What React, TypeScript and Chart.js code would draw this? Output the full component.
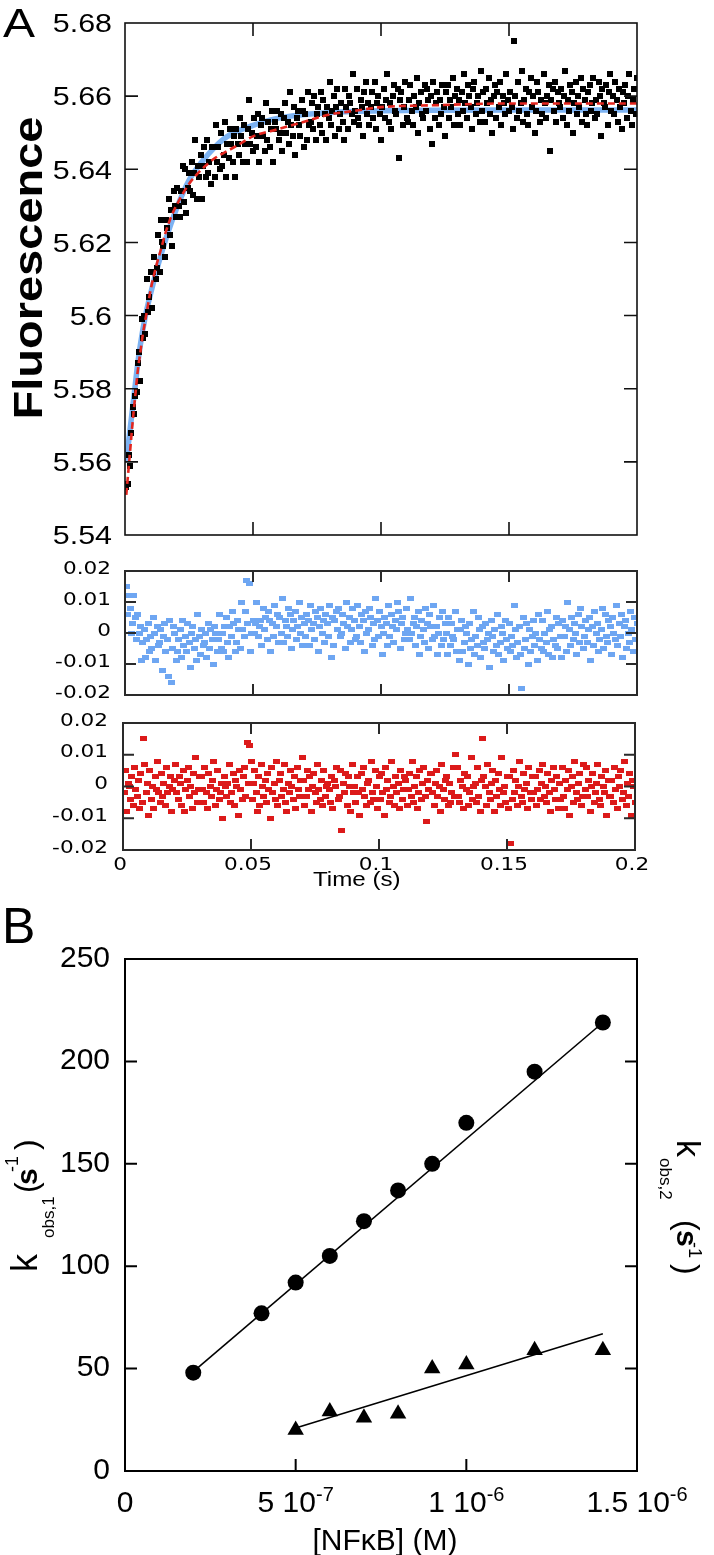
import React, { useEffect, useRef } from 'react';
import { Chart, registerables } from 'chart.js';
Chart.register(...registerables);

// ---------- Panel A data ----------
const timeS = [
  0.0005,0.001,0.0015,0.002,0.0025,0.003,0.0035,0.004,0.0045,0.005,0.0055,0.006,0.0065,0.007,0.0075,0.008,0.0085,0.009,0.0095,0.01,
  0.0105,0.011,0.0115,0.012,0.0125,0.013,0.0135,0.014,0.0145,0.015,0.0155,0.016,0.0165,0.017,0.0175,0.018,0.0185,0.019,0.0195,0.02,
  0.0205,0.021,0.0215,0.022,0.0225,0.023,0.0235,0.024,0.0245,0.025,0.0255,0.026,0.0265,0.027,0.0275,0.028,0.0285,0.029,0.0295,0.03,
  0.0305,0.031,0.0315,0.032,0.0325,0.033,0.0335,0.034,0.0345,0.035,0.0355,0.036,0.0365,0.037,0.0375,0.038,0.0385,0.039,0.0395,0.04,
  0.0405,0.041,0.0415,0.042,0.0425,0.043,0.0435,0.044,0.0445,0.045,0.0455,0.046,0.0465,0.047,0.0475,0.048,0.0485,0.049,0.0495,0.05,
  0.0505,0.051,0.0515,0.052,0.0525,0.053,0.0535,0.054,0.0545,0.055,0.0555,0.056,0.0565,0.057,0.0575,0.058,0.0585,0.059,0.0595,0.06,
  0.0605,0.061,0.0615,0.062,0.0625,0.063,0.0635,0.064,0.0645,0.065,0.0655,0.066,0.0665,0.067,0.0675,0.068,0.0685,0.069,0.0695,0.07,
  0.0705,0.071,0.0715,0.072,0.0725,0.073,0.0735,0.074,0.0745,0.075,0.0755,0.076,0.0765,0.077,0.0775,0.078,0.0785,0.079,0.0795,0.08,
  0.0805,0.081,0.0815,0.082,0.0825,0.083,0.0835,0.084,0.0845,0.085,0.0855,0.086,0.0865,0.087,0.0875,0.088,0.0885,0.089,0.0895,0.09,
  0.0905,0.091,0.0915,0.092,0.0925,0.093,0.0935,0.094,0.0945,0.095,0.0955,0.096,0.0965,0.097,0.0975,0.098,0.0985,0.099,0.0995,0.1,
  0.1005,0.101,0.1015,0.102,0.1025,0.103,0.1035,0.104,0.1045,0.105,0.1055,0.106,0.1065,0.107,0.1075,0.108,0.1085,0.109,0.1095,0.11,
  0.1105,0.111,0.1115,0.112,0.1125,0.113,0.1135,0.114,0.1145,0.115,0.1155,0.116,0.1165,0.117,0.1175,0.118,0.1185,0.119,0.1195,0.12,
  0.1205,0.121,0.1215,0.122,0.1225,0.123,0.1235,0.124,0.1245,0.125,0.1255,0.126,0.1265,0.127,0.1275,0.128,0.1285,0.129,0.1295,0.13,
  0.1305,0.131,0.1315,0.132,0.1325,0.133,0.1335,0.134,0.1345,0.135,0.1355,0.136,0.1365,0.137,0.1375,0.138,0.1385,0.139,0.1395,0.14,
  0.1405,0.141,0.1415,0.142,0.1425,0.143,0.1435,0.144,0.1445,0.145,0.1455,0.146,0.1465,0.147,0.1475,0.148,0.1485,0.149,0.1495,0.15,
  0.1505,0.151,0.1515,0.152,0.1525,0.153,0.1535,0.154,0.1545,0.155,0.1555,0.156,0.1565,0.157,0.1575,0.158,0.1585,0.159,0.1595,0.16,
  0.1605,0.161,0.1615,0.162,0.1625,0.163,0.1635,0.164,0.1645,0.165,0.1655,0.166,0.1665,0.167,0.1675,0.168,0.1685,0.169,0.1695,0.17,
  0.1705,0.171,0.1715,0.172,0.1725,0.173,0.1735,0.174,0.1745,0.175,0.1755,0.176,0.1765,0.177,0.1775,0.178,0.1785,0.179,0.1795,0.18,
  0.1805,0.181,0.1815,0.182,0.1825,0.183,0.1835,0.184,0.1845,0.185,0.1855,0.186,0.1865,0.187,0.1875,0.188,0.1885,0.189,0.1895,0.19,
  0.1905,0.191,0.1915,0.192,0.1925,0.193,0.1935,0.194,0.1945,0.195,0.1955,0.196,0.1965,0.197,0.1975,0.198,0.1985,0.199,0.1995,0.2,
];

const fluorescence = [
  5.553,5.554,5.562,5.559,5.568,5.575,5.573,5.578,5.579,5.587,5.590,5.582,5.599,5.594,5.600,5.595,5.610,5.601,5.605,5.612,
  5.602,5.612,5.616,5.610,5.613,5.622,5.612,5.626,5.620,5.619,5.616,5.626,5.624,5.632,5.622,5.629,5.619,5.634,5.630,5.627,
  5.635,5.630,5.627,5.634,5.641,5.631,5.640,5.628,5.635,5.639,5.634,5.642,5.633,5.639,5.648,5.632,5.641,5.638,5.644,5.632,
  5.641,5.646,5.638,5.648,5.639,5.642,5.636,5.646,5.646,5.638,5.652,5.642,5.646,5.640,5.650,5.641,5.644,5.653,5.638,5.647,
  5.643,5.651,5.647,5.642,5.649,5.638,5.651,5.647,5.644,5.654,5.649,5.642,5.652,5.647,5.642,5.651,5.659,5.647,5.650,5.645,
  5.654,5.646,5.649,5.655,5.642,5.652,5.654,5.649,5.645,5.658,5.648,5.653,5.646,5.651,5.656,5.642,5.653,5.651,5.656,5.648,
  5.650,5.655,5.645,5.654,5.658,5.650,5.653,5.647,5.661,5.652,5.649,5.657,5.644,5.654,5.656,5.652,5.649,5.659,5.656,5.646,
  5.655,5.648,5.661,5.652,5.653,5.658,5.651,5.660,5.648,5.655,5.657,5.652,5.661,5.650,5.659,5.655,5.648,5.657,5.654,5.664,
  5.652,5.656,5.660,5.649,5.657,5.662,5.651,5.655,5.658,5.653,5.648,5.662,5.657,5.651,5.660,5.658,5.655,5.666,5.653,5.656,
  5.662,5.654,5.652,5.659,5.657,5.649,5.661,5.664,5.655,5.658,5.652,5.657,5.661,5.654,5.664,5.651,5.658,5.660,5.655,5.648,
  5.657,5.662,5.654,5.659,5.666,5.653,5.658,5.651,5.660,5.663,5.656,5.655,5.662,5.643,5.659,5.661,5.652,5.657,5.664,5.654,
  5.653,5.659,5.663,5.656,5.652,5.660,5.657,5.665,5.650,5.658,5.661,5.655,5.654,5.663,5.656,5.662,5.659,5.651,5.660,5.647,
  5.664,5.654,5.658,5.661,5.652,5.659,5.655,5.663,5.657,5.649,5.661,5.663,5.654,5.659,5.657,5.665,5.652,5.660,5.662,5.655,
  5.659,5.652,5.661,5.656,5.666,5.658,5.654,5.663,5.660,5.657,5.651,5.662,5.664,5.655,5.658,5.660,5.653,5.667,5.656,5.661,
  5.653,5.662,5.658,5.665,5.655,5.659,5.650,5.660,5.663,5.654,5.661,5.657,5.664,5.652,5.660,5.658,5.655,5.666,5.659,5.656,
  5.661,5.657,5.651,5.675,5.660,5.654,5.664,5.656,5.658,5.667,5.653,5.659,5.662,5.655,5.652,5.661,5.665,5.657,5.660,5.650,
  5.656,5.664,5.661,5.653,5.659,5.655,5.666,5.658,5.654,5.660,5.663,5.645,5.659,5.662,5.656,5.664,5.653,5.661,5.658,5.657,
  5.662,5.654,5.660,5.667,5.652,5.659,5.656,5.663,5.661,5.650,5.658,5.664,5.655,5.660,5.657,5.665,5.653,5.662,5.659,5.655,
  5.652,5.661,5.663,5.656,5.658,5.665,5.654,5.659,5.655,5.664,5.660,5.649,5.662,5.658,5.657,5.663,5.652,5.661,5.666,5.656,
  5.660,5.655,5.664,5.659,5.653,5.662,5.657,5.651,5.661,5.658,5.663,5.654,5.660,5.666,5.656,5.652,5.659,5.662,5.655,5.665,
];

// residuals of the single-exponential fit (blue)
const residualSingle = [
  .015,.006,.012,.008,0,.003,.012,.005,-.002,.006,0,.002,-.009,-.003,.001,-.008,-.002,.003,-.006,-.001,
  -.005,.005,0,-.009,.002,-.004,-.003,.001,-.012,-.001,.003,-.006,-.002,-.014,.004,-.016,-.005,.002,0,-.009,
  -.006,-.002,.001,-.008,.004,-.004,-.001,-.006,.003,-.003,-.011,0,.002,-.005,-.002,-.009,.006,-.001,-.007,.001,
  -.004,-.003,0,-.008,.003,-.005,.001,-.002,-.010,.002,0,-.006,-.002,.006,-.005,0,-.006,.002,.005,-.003,
  -.008,.002,-.001,.007,.003,-.006,-.003,.004,.001,-.005,.010,.001,-.001,.007,.017,.003,.016,-.006,0,.004,
  0,.003,.010,-.001,.002,.004,-.004,.008,.001,.005,-.002,.007,.004,-.006,.003,-.001,.009,.002,.006,-.003,
  .005,0,.011,-.003,.004,.002,-.001,.008,.006,-.005,.001,.004,.007,-.002,.002,.010,0,.005,-.004,.003,
  -.001,.006,.004,-.004,.009,.001,.003,-.002,.007,.005,-.006,.002,.008,0,.004,-.003,.006,.003,-.001,.009,
  -.008,.005,-.004,.004,.007,.001,.008,-.001,0,.006,.003,-.005,.010,.002,.005,-.003,.001,.008,.004,-.002,
  -.001,.009,.002,-.003,.006,.004,-.006,.007,0,.001,.008,.005,-.004,.003,-.002,.011,.004,-.001,.007,.002,
  -.007,0,.005,.003,-.004,.009,-.001,.006,.002,-.003,.004,.001,.010,.007,-.005,.003,.005,-.002,0,.008,
  .001,-.002,.011,0,.003,.005,-.004,.002,.007,-.007,-.001,.004,.001,-.003,.008,.003,-.005,.006,.002,-.002,
  .009,-.001,.002,-.007,0,.005,-.004,.007,-.002,.003,0,-.007,.005,-.004,.003,-.001,-.002,.007,-.006,.001,
  -.009,.001,.004,-.006,-.003,.002,0,-.010,.003,-.005,-.002,.007,-.007,-.001,-.004,.005,.001,-.008,.002,-.003,
  -.005,.003,-.002,0,-.011,.004,-.001,-.006,.001,-.004,.006,-.007,-.003,.002,0,-.009,.004,-.002,-.005,.003,
  -.006,-.001,-.004,.009,.001,-.008,-.003,.002,-.007,-.018,.005,-.005,-.002,.003,-.010,.001,-.006,-.001,.004,-.004,
  0,-.009,.006,-.002,-.005,.004,-.006,0,-.003,.007,-.007,.001,.002,-.008,-.002,-.004,.005,-.005,.003,-.001,
  -.008,.004,-.001,.002,-.006,.010,.001,-.004,.005,-.002,.003,0,-.007,.006,-.003,.008,.002,-.005,-.001,.004,
  -.003,.001,.005,-.009,.002,-.004,.007,0,.003,-.006,-.002,.001,.008,-.005,.006,-.001,-.003,.004,.002,-.007,
  .005,0,-.002,.009,-.004,.003,-.001,.006,-.008,.002,.004,-.005,0,-.003,.007,.001,-.006,.005,-.002,.003,
];

// residuals of the double-exponential fit (red)
const residualDouble = [
  -.002,.005,-.008,.001,0,-.004,.003,-.006,.006,-.001,-.003,.002,-.007,.004,-.005,.015,.007,-.002,.001,-.009,
  .005,-.004,0,-.007,.003,-.001,.008,-.002,-.005,.004,-.003,.001,-.006,.006,-.002,0,.003,-.008,-.001,.002,
  .007,-.002,-.004,.003,.001,-.006,.005,-.008,-.001,.002,.006,-.003,0,-.007,.004,-.002,.009,-.005,-.001,.003,
  .003,-.001,-.005,.006,-.002,-.007,.004,0,-.003,.002,.008,-.006,-.001,.005,-.004,-.002,.001,-.010,.003,0,
  -.003,.001,.007,-.005,-.002,.004,-.006,.002,0,-.009,.005,-.001,-.004,.003,.006,-.003,.014,.001,.013,.008,
  -.004,.001,.005,-.002,-.008,.003,-.006,.007,0,-.003,.002,-.005,.004,-.001,-.010,.006,-.002,.001,-.004,.008,
  -.006,.002,.004,-.003,-.001,.007,-.005,-.008,.001,-.002,.005,0,-.004,.003,-.007,.006,-.001,-.003,.002,.009,
  .002,-.006,-.003,.005,-.001,.003,-.008,0,.004,-.002,-.005,.007,-.001,-.004,.002,-.006,.005,-.003,0,.001,
  -.001,-.005,.003,-.007,.002,0,.006,-.004,-.003,.005,-.014,.001,-.002,.004,-.006,.003,0,-.008,.007,-.002,
  0,-.005,.003,-.002,-.009,.004,-.001,.006,-.003,-.006,.001,.002,-.005,.008,-.002,-.004,.005,0,-.007,.003,
  -.004,.004,-.002,-.009,.006,-.001,.002,-.005,-.003,.008,0,-.006,.003,-.002,.001,-.007,.005,-.004,-.001,.003,
  .002,-.006,-.001,.004,-.003,.008,-.005,0,.003,-.007,-.002,.005,-.004,.001,.006,-.003,-.011,.002,-.001,.004,
  .004,-.002,-.006,.001,.005,-.003,0,-.008,.007,-.001,-.004,.002,.003,-.006,.001,-.005,-.002,.006,-.003,.010,
  .006,-.003,-.005,.002,0,-.007,.004,-.001,.003,-.006,-.002,.009,-.004,0,.001,-.005,.006,-.003,-.008,.002,
  .015,.003,0,-.006,.007,-.002,-.004,.001,.005,-.008,.002,-.003,.004,-.001,-.006,.009,-.002,0,-.005,.003,
  -.007,.003,-.018,-.004,.005,-.002,.002,-.006,0,.008,-.003,-.005,.004,-.001,.001,-.007,.006,-.002,-.004,.003,
  -.002,.003,-.006,-.001,.005,-.004,.001,.007,-.003,0,-.005,.004,-.002,-.008,.002,.006,-.001,-.004,.003,-.007,
  .001,-.004,.006,-.003,-.007,.002,-.001,.005,-.009,0,.003,-.005,.008,-.002,-.004,.001,.004,-.006,-.003,.007,
  -.001,.006,-.003,.002,-.008,0,.004,-.005,-.002,.001,.007,-.004,-.006,.003,0,-.002,.005,-.009,.002,-.003,
  -.003,.002,-.005,.006,-.001,-.007,.003,0,.005,-.004,-.002,.008,-.006,.001,-.003,.004,-.009,.002,0,-.005,
];

const fitSingleT = [0.0004,0.001,0.002,0.003,0.004,0.005,0.006,0.008,0.010,0.013,0.016,0.020,0.025,0.030,0.035,0.040,0.050,0.060,0.080,0.100,0.150,0.200];
const fitSingleF = [5.560,5.563,5.569,5.575,5.581,5.587,5.592,5.600,5.606,5.614,5.621,5.629,5.637,5.642,5.646,5.649,5.652,5.654,5.6555,5.656,5.6562,5.6562];
const fitDoubleT = [0.0005,0.001,0.002,0.003,0.004,0.005,0.006,0.007,0.008,0.009,0.010,0.012,0.014,0.016,0.018,0.020,0.025,0.030,0.035,0.040,0.045,0.050,0.060,0.070,0.080,0.090,0.100,0.120,0.150,0.200];
const fitDoubleF = [5.551,5.555,5.563,5.571,5.578,5.585,5.590,5.595,5.599,5.603,5.607,5.613,5.618,5.623,5.627,5.630,5.636,5.640,5.643,5.645,5.647,5.649,5.651,5.653,5.655,5.656,5.657,5.6575,5.658,5.658];

const fluorTicks = [5.54, 5.56, 5.58, 5.6, 5.62, 5.64, 5.66, 5.68];
const fluorTickLabels = ['5.54', '5.56', '5.58', '5.6', '5.62', '5.64', '5.66', '5.68'];
const residTicks = [-0.02, -0.01, 0, 0.01, 0.02];
const residTickLabels = ['-0.02', '-0.01', '0', '0.01', '0.02'];
const timeTicks = [0, 0.05, 0.1, 0.15, 0.2];
const timeTickLabels = ['0', '0.05', '0.1', '0.15', '0.2'];

// ---------- Panel B data ----------
const concM1 = [2e-7, 4e-7, 5e-7, 6e-7, 7e-7, 8e-7, 9e-7, 1e-6, 1.2e-6, 1.4e-6];
const kobs1 = [48, 77, 92, 105, 122, 137, 150, 170, 195, 219];
const concM2 = [5e-7, 6e-7, 7e-7, 8e-7, 9e-7, 1e-6, 1.2e-6, 1.4e-6];
const kobs2 = [20, 29, 26, 28, 50, 52, 59, 59];
const fit1X = [2e-7, 1.4e-6];
const fit1Y = [48.5, 219];
const fit2X = [5e-7, 1.4e-6];
const fit2Y = [21, 67];
const kTicks = [0, 50, 100, 150, 200, 250];
const kTickLabels = ['0', '50', '100', '150', '200', '250'];
const concTicks = [0, 5e-7, 1e-6, 1.5e-6];
const concTickMain = ['0', '5 10', '1 10', '1.5 10'];
const concTickExp = ['', '-7', '-6', '-6'];

// ---------- helpers ----------
const pts = (xs: number[], ys: number[]) => xs.map((x, i) => ({ x, y: ys[i] }));
const LIB = '"Liberation Sans", Arial, sans-serif';
const DJV = '"DejaVu Sans", Verdana, sans-serif';

function markerCanvas(w: number, h: number, color: string) {
  const c = document.createElement('canvas');
  c.width = w;
  c.height = h;
  const g = c.getContext('2d');
  if (g) {
    g.fillStyle = color;
    g.fillRect(0, 0, w, h);
  }
  return c;
}

function drawText(ctx: CanvasRenderingContext2D, text: string, x: number, y: number, font: string, align: 'left' | 'right' | 'center', sx = 1) {
  ctx.save();
  ctx.font = font;
  ctx.fillStyle = '#000';
  ctx.textAlign = 'left';
  ctx.textBaseline = 'alphabetic';
  const w = ctx.measureText(text).width * sx;
  const x0 = align === 'left' ? x : align === 'right' ? x - w : x - w / 2;
  ctx.translate(x0, y);
  ctx.scale(sx, 1);
  ctx.fillText(text, 0, 0);
  ctx.restore();
}

type Part = { t: string; font: string; off: number; dy?: number; sx?: number };
function drawParts(ctx: CanvasRenderingContext2D, parts: Part[], ox: number, oy: number, rot: number) {
  ctx.save();
  ctx.translate(ox, oy);
  ctx.rotate(rot);
  ctx.fillStyle = '#000';
  ctx.textAlign = 'left';
  ctx.textBaseline = 'alphabetic';
  parts.forEach((p) => {
    ctx.save();
    ctx.translate(p.off, p.dy || 0);
    ctx.scale(p.sx || 1, 1);
    ctx.font = p.font;
    ctx.fillText(p.t, 0, 0);
    ctx.restore();
  });
  ctx.restore();
}

type Decor = {
  color: string;
  width: number;
  tickLen: number;
  left?: number[];
  right?: number[];
  top?: number[];
  bottom?: number[];
  extra?: (ctx: CanvasRenderingContext2D, chart: Chart) => void;
};

function decorPlugin(id: string, d: Decor) {
  return {
    id,
    afterDraw(chart: Chart) {
      const ctx = chart.ctx;
      const a = chart.chartArea;
      const xs = chart.scales.x;
      const ys = chart.scales.y;
      ctx.save();
      ctx.strokeStyle = d.color;
      ctx.lineWidth = d.width;
      ctx.strokeRect(a.left, a.top, a.right - a.left, a.bottom - a.top);
      ctx.beginPath();
      (d.left || []).forEach((v) => {
        const y = ys.getPixelForValue(v);
        ctx.moveTo(a.left, y);
        ctx.lineTo(a.left + d.tickLen, y);
      });
      (d.right || []).forEach((v) => {
        const y = ys.getPixelForValue(v);
        ctx.moveTo(a.right, y);
        ctx.lineTo(a.right - d.tickLen, y);
      });
      (d.top || []).forEach((v) => {
        const x = xs.getPixelForValue(v);
        ctx.moveTo(x, a.top);
        ctx.lineTo(x, a.top + d.tickLen);
      });
      (d.bottom || []).forEach((v) => {
        const x = xs.getPixelForValue(v);
        ctx.moveTo(x, a.bottom);
        ctx.lineTo(x, a.bottom - d.tickLen);
      });
      ctx.stroke();
      ctx.restore();
      if (d.extra) d.extra(ctx, chart);
    },
  };
}

const baseOptions = (padding: { left: number; right: number; top: number; bottom: number }, x: [number, number], y: [number, number]) => ({
  animation: false as const,
  responsive: false,
  events: [] as any[],
  layout: { padding },
  scales: {
    x: { type: 'linear' as const, min: x[0], max: x[1], display: false },
    y: { type: 'linear' as const, min: y[0], max: y[1], display: false },
  },
  plugins: { legend: { display: false }, tooltip: { enabled: false } },
});

const innerTime = [0.05, 0.1, 0.15];
const innerFluor = [5.56, 5.58, 5.6, 5.62, 5.64, 5.66];
const innerResid = [-0.01, 0, 0.01];

function buildMain(canvas: HTMLCanvasElement) {
  const sq = markerCanvas(6, 6, '#000');
  return new Chart(canvas, {
    type: 'scatter',
    data: {
      datasets: [
        { data: pts(fitDoubleT, fitDoubleF), showLine: true, borderColor: '#e3261f', borderWidth: 2.6, borderDash: [7, 4], pointRadius: 0, order: 0, cubicInterpolationMode: 'monotone' } as any,
        { data: pts(timeS, fluorescence), pointStyle: sq, pointRadius: 3, order: 1 },
        { data: pts(fitSingleT, fitSingleF), showLine: true, borderColor: '#7cb2f2', borderWidth: 5.5, pointRadius: 0, order: 2, cubicInterpolationMode: 'monotone' } as any,
      ],
    },
    options: baseOptions({ left: 125, right: 77, top: 23, bottom: 13 }, [0, 0.2], [5.54, 5.68]) as any,
    plugins: [
      decorPlugin('mainDecor', {
        color: '#111', width: 1.6, tickLen: 13,
        left: innerFluor, right: innerFluor, top: innerTime, bottom: innerTime,
        extra: (ctx, chart) => {
          const ys = chart.scales.y;
          fluorTicks.forEach((v, i) => drawText(ctx, fluorTickLabels[i], 112, ys.getPixelForValue(v) + 9.3, `26px ${LIB}`, 'right', 1.17));
          drawText(ctx, 'A', 3, 37, `40px ${LIB}`, 'left', 1.2);
          ctx.save();
          ctx.font = `bold 40px ${LIB}`;
          const w = ctx.measureText('Fluorescence').width;
          ctx.restore();
          drawParts(ctx, [{ t: 'Fluorescence', font: `bold 40px ${LIB}`, off: -151.5, sx: 303 / w }], 42, 268, -Math.PI / 2);
        },
      }),
    ],
  });
}

function buildResid(canvas: HTMLCanvasElement, values: number[], color: string, which: 1 | 2) {
  const top = which === 1 ? 548 : 705;
  const padding = which === 1 ? { left: 125, right: 77, top: 23, bottom: 10 } : { left: 123, right: 79, top: 18, bottom: 55 };
  const labelRight = which === 1 ? 111 : 108;
  const rect = markerCanvas(7, 5, color);
  return new Chart(canvas, {
    type: 'scatter',
    data: {
      datasets: [{ data: pts(timeS, values), pointStyle: rect, pointRadius: 3 }],
    },
    options: baseOptions(padding, [0, 0.2], [-0.02, 0.02]) as any,
    plugins: [
      decorPlugin('residDecor' + which, {
        color: '#2a2a2a', width: 2, tickLen: 11,
        left: innerResid, right: innerResid, top: innerTime, bottom: innerTime,
        extra: (ctx, chart) => {
          const ys = chart.scales.y;
          const xs = chart.scales.x;
          residTicks.forEach((v, i) => drawText(ctx, residTickLabels[i], labelRight, ys.getPixelForValue(v) + 2.5, `18px ${DJV}`, 'right', 1.2));
          if (which === 2) {
            timeTicks.forEach((v, i) => drawText(ctx, timeTickLabels[i], xs.getPixelForValue(v) - 3, 870 - top, `18px ${DJV}`, 'center', 1.2));
            drawText(ctx, 'Time (s)', 313, 886 - top, `21px ${LIB}`, 'left', 1.15);
          }
        },
      }),
    ],
  });
}

function buildB(canvas: HTMLCanvasElement) {
  const top = 905;
  return new Chart(canvas, {
    type: 'scatter',
    data: {
      datasets: [
        { data: pts(fit1X, fit1Y), showLine: true, borderColor: '#000', borderWidth: 1.6, pointRadius: 0, order: 2 },
        { data: pts(fit2X, fit2Y), showLine: true, borderColor: '#000', borderWidth: 1.6, pointRadius: 0, order: 2 },
        { data: pts(concM1, kobs1), pointStyle: 'circle', pointRadius: 8, pointBackgroundColor: '#000', pointBorderWidth: 0, order: 1 },
        { data: pts(concM2, kobs2), pointStyle: 'triangle', pointRadius: 9.5, pointBackgroundColor: '#000', pointBorderWidth: 0, order: 1 },
      ],
    },
    options: baseOptions({ left: 125, right: 77, top: 54, bottom: 84 }, [0, 1.5e-6], [0, 250]) as any,
    plugins: [
      decorPlugin('bDecor', {
        color: '#000', width: 2, tickLen: 12,
        left: [50, 100, 150, 200], right: [50, 100, 150, 200], bottom: [5e-7, 1e-6],
        extra: (ctx, chart) => {
          const ys = chart.scales.y;
          const xs = chart.scales.x;
          kTicks.forEach((v, i) => drawText(ctx, kTickLabels[i], 110, ys.getPixelForValue(v) + 7.7, `30px ${LIB}`, 'right'));
          concTicks.forEach((v, i) => {
            ctx.save();
            ctx.font = `30px ${LIB}`;
            const wm = ctx.measureText(concTickMain[i]).width;
            ctx.font = `20px ${LIB}`;
            const we = concTickExp[i] ? ctx.measureText(concTickExp[i]).width : 0;
            ctx.restore();
            const x0 = xs.getPixelForValue(v) - (wm + we) / 2;
            drawText(ctx, concTickMain[i], x0, 1512 - top, `30px ${LIB}`, 'left');
            if (concTickExp[i]) drawText(ctx, concTickExp[i], x0 + wm, 1501 - top, `20px ${LIB}`, 'left');
          });
          drawText(ctx, '[NFκB] (M)', 385, 1550 - top, `30px ${LIB}`, 'center');
          drawText(ctx, 'B', 2, 943 - top, `50px ${LIB}`, 'left');
          drawParts(ctx, [
            { t: 'k', font: `36px ${LIB}`, off: 0 },
            { t: 'obs,1', font: `17px ${LIB}`, off: 34, dy: 17 },
            { t: '(', font: `32px ${LIB}`, off: 79 },
            { t: 's', font: `bold 30px ${LIB}`, off: 87 },
            { t: '-1', font: `18px ${LIB}`, off: 100, dy: -19 },
            { t: ')', font: `32px ${LIB}`, off: 122 },
          ], 37, 1272 - top, -Math.PI / 2);
          drawParts(ctx, [
            { t: 'k', font: `34px ${LIB}`, off: 0 },
            { t: 'obs,2', font: `17px ${LIB}`, off: 18, dy: 17 },
            { t: '(', font: `32px ${LIB}`, off: 80 },
            { t: 's', font: `bold 30px ${LIB}`, off: 90 },
            { t: '-1', font: `18px ${LIB}`, off: 102, dy: -12 },
            { t: ')', font: `32px ${LIB}`, off: 124 },
          ], 677, 1140 - top, Math.PI / 2);
        },
      }),
    ],
  });
}

export default function App() {
  const mainRef = useRef<HTMLCanvasElement>(null);
  const r1Ref = useRef<HTMLCanvasElement>(null);
  const r2Ref = useRef<HTMLCanvasElement>(null);
  const bRef = useRef<HTMLCanvasElement>(null);

  useEffect(() => {
    const charts: Chart[] = [];
    if (mainRef.current) charts.push(buildMain(mainRef.current));
    if (r1Ref.current) charts.push(buildResid(r1Ref.current, residualSingle, '#6ea6f2', 1));
    if (r2Ref.current) charts.push(buildResid(r2Ref.current, residualDouble, '#dc1a1a', 2));
    if (bRef.current) charts.push(buildB(bRef.current));
    return () => charts.forEach((c) => c.destroy());
  }, []);

  const cv = (top: number, h: number): React.CSSProperties => ({ position: 'absolute', left: 0, top, width: 714, height: h });

  return (
    <div style={{ position: 'absolute', left: 0, top: 0, width: 714, height: 1555, background: '#fff', overflow: 'hidden' }}>
      <canvas ref={mainRef} width={714} height={548} style={cv(0, 548)} />
      <canvas ref={r1Ref} width={714} height={157} style={cv(548, 157)} />
      <canvas ref={r2Ref} width={714} height={200} style={cv(705, 200)} />
      <canvas ref={bRef} width={714} height={650} style={cv(905, 650)} />
    </div>
  );
}
